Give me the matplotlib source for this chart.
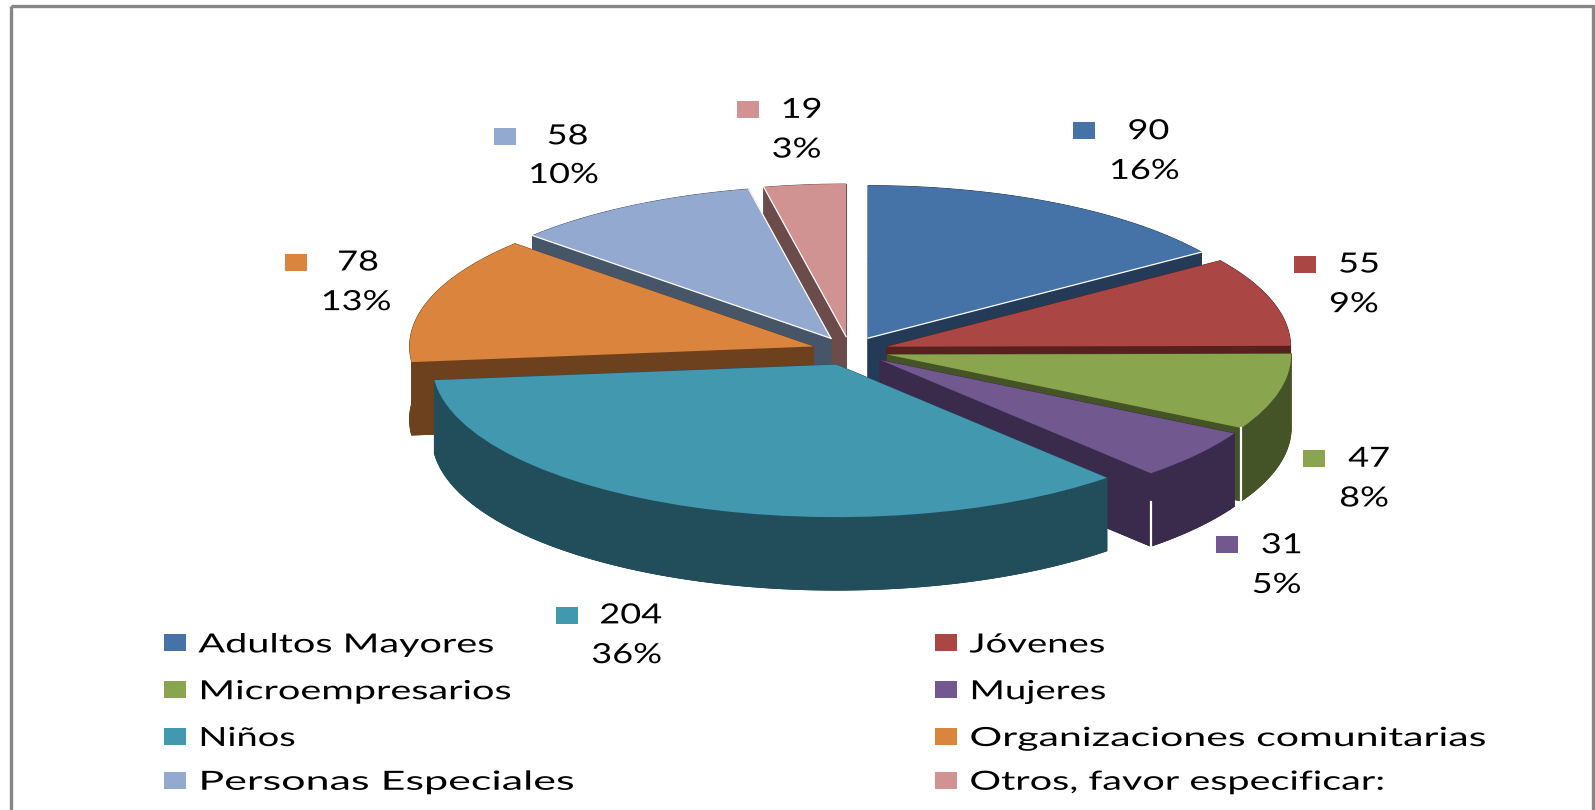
import numpy as np
import matplotlib
matplotlib.use("Agg")
import matplotlib.pyplot as plt
from matplotlib.patches import Rectangle
from matplotlib.patheffects import AbstractPathEffect
from matplotlib.transforms import Affine2D

# Data
categories = ["Adultos Mayores", "Jóvenes", "Microempresarios", "Mujeres",
              "Niños", "Organizaciones comunitarias", "Personas Especiales",
              "Otros, favor especificar:"]
values = [90, 55, 47, 31, 204, 78, 58, 19]
percents = ["16%", "9%", "8%", "5%", "36%", "13%", "10%", "3%"]
colors = ["#4572a7", "#aa4643", "#89a54e", "#71588f", "#4198af", "#db843d", "#93a9cf", "#d19392"]
dark_colors = ["#243b58", "#57211f", "#455426", "#3a2a4c", "#224e5c", "#6e411e", "#475569", "#6b4c4a"]

# Layout, in pixels of the 1568 wide preview
S = 1595 / 1568
swatch_x = [1055, 1272, 1281, 1195, 547, 280, 486, 725]
swatch_y = [128, 260, 451, 535, 605, 258, 134, 108]
num_x = [1129, 1336, 1346, 1260, 620, 352, 558, 788]
num_y = [129, 260, 451, 536, 605, 258, 134, 108]
pct_x = [1125, 1331, 1341, 1255, 616, 350, 554, 783]
pct_y = [168, 299, 490, 575, 644, 297, 172, 147]
legend_x = [161, 919, 161, 919, 161, 919, 161, 919]
legend_y = [632, 632, 678, 678, 724, 724, 767, 767]
legend_text_y = [634, 634, 680, 680, 726, 726, 769, 769]
legend_stretch = [1.5, 1.45, 1.5, 1.45, 1.44, 1.555, 1.63, 1.5]

# painter's order, back to front
draw_order = [7, 0, 6, 1, 5, 2, 3, 4]
W, H = 1595, 810
cx, cy = 850, 351
rx, ry = 404, 152.6
depth = 73 / ry


class Stretch(AbstractPathEffect):
    # widen a text sideways around x0, the original labels are stretched
    def __init__(self, sx, x0):
        super().__init__()
        self.sx = sx
        self.x0 = x0

    def draw_path(self, renderer, gc, tpath, affine, rgbFace=None):
        t = Affine2D().translate(-self.x0, 0).scale(self.sx, 1).translate(self.x0, 0)
        renderer.draw_path(gc, tpath, affine + t, rgbFace)


fig = plt.figure(figsize=(W / 100, H / 100), dpi=100, facecolor="white")
ax = fig.add_axes([0, 0, 1, 1])
wedges, _ = ax.pie(values, explode=[0.095] * len(values), colors=colors, startangle=90,
                   counterclock=False, wedgeprops={"linewidth": 0})
ax.set_aspect("auto")
ax.set_xlim(-cx / rx, (W - cx) / rx)
ax.set_ylim(-(H - cy) / ry, cy / ry)

for z, i in enumerate(draw_order):
    w = wedges[i]
    c = np.array(w.center)
    t = np.radians(np.linspace(w.theta1, w.theta2, 120))
    arc = np.column_stack([c[0] + np.cos(t), c[1] + np.sin(t)])
    down = np.array([0, -depth])
    low = arc + down
    dark = dict(color=dark_colors[i], lw=0.6, zorder=10 + 2 * z)
    # bottom, outer wall and the two cut faces
    ax.fill(*np.vstack([c + down, low]).T, **dark)
    ax.fill(*np.vstack([arc, low[::-1]]).T, **dark)
    ax.fill(*np.array([c, arc[0], low[0], c + down]).T, **dark)
    ax.fill(*np.array([c, arc[-1], low[-1], c + down]).T, **dark)
    w.set_zorder(11 + 2 * z)
    # thin white edges seen on the cuts that face the viewer
    if i in (0, 6, 7):
        p = arc[0] if i != 7 else arc[-1]
        ax.plot(*np.array([c, p]).T, color="white", lw=0.9, zorder=11.5 + 2 * z)
    if i == 6:
        ax.plot(*np.array([c, arc[-1]]).T, color="white", lw=0.9, zorder=11.5 + 2 * z)
    if i == 2:
        ax.plot(*np.array([arc[0], low[0]]).T, color="white", lw=1.6, zorder=11.5 + 2 * z)
    if i == 3:
        ax.plot(*np.array([arc[0] + down * 0.4, low[0]]).T, color="white", lw=1.6, zorder=11.5 + 2 * z)

# Overlay in pixels for the labels, swatches and frame
ov = fig.add_axes([0, 0, 1, 1], facecolor="none")
ov.set_xlim(0, W)
ov.set_ylim(H, 0)
ov.axis("off")
ov.add_patch(Rectangle((10.5, 5.5), 1582, 900, fill=False, edgecolor="#868686", lw=2.4))


def label(x, y, s, size, sx, ha):
    ov.text(x, y, s, fontsize=size, family="Lato", color="black", ha=ha, va="center",
            path_effects=[Stretch(sx, x)])


for i in range(len(values)):
    sw_left = swatch_x[i] * S
    ov.add_patch(Rectangle((sw_left, swatch_y[i] * S - 8.5), 22, 17, color=colors[i], lw=0))
    label(num_x[i] * S, num_y[i] * S, str(values[i]), 20, 1.3, "center")
    label(pct_x[i] * S, pct_y[i] * S, percents[i], 20, 1.3, "center")
    ov.add_patch(Rectangle((legend_x[i] * S, legend_y[i] * S - 8.5), 22, 17, color=colors[i], lw=0))
    label((legend_x[i] + 34) * S, legend_text_y[i] * S, categories[i], 19, legend_stretch[i], "left")

fig.savefig("out.png", dpi=100)
